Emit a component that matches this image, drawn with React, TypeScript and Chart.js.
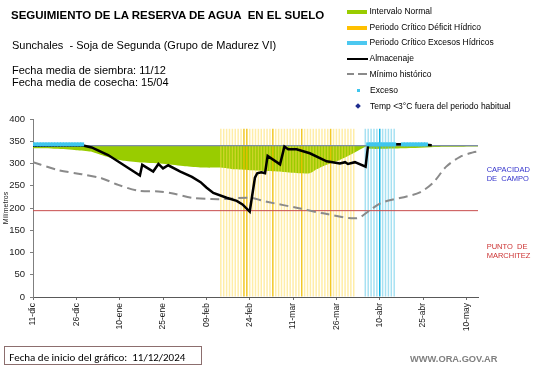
import React, { useEffect, useRef } from 'react';
import { Chart, registerables } from 'chart.js';

Chart.register(...registerables);

// ---------- data ----------
const X_MAX = 154; // days after 11-dic
const tickDays = [0, 15, 30, 45, 60, 75, 90, 105, 120, 135, 150];
const xTickLabels = ['11-dic', '26-dic', '10-ene', '25-ene', '09-feb', '24-feb', '11-mar', '26-mar', '10-abr', '25-abr', '10-may'];

const capacidadCampo = 340;
const puntoMarchitez = 194;

const almacenajeDays = [0, 17, 20.3, 26, 37, 37.8, 41.6, 43.4, 45, 46.8, 51, 55, 58, 60, 62.4, 67, 70.5, 72.5, 75, 76.8, 77.6, 79, 80.3, 81.2, 85.5, 87, 88.3, 91.2, 95.8, 101.6, 106.2, 108, 109, 111.4, 115.1, 116, 126, 128, 136, 138];
const almacenajeMm = [340, 341, 336, 319, 273, 297, 282, 299, 289, 296, 282, 270, 258, 246, 234, 223, 216, 208, 192, 268, 278, 280, 278, 317, 298, 338, 332, 332, 323, 305, 300, 303, 299, 303, 293, 343, 343, 343, 342, 341];

const minimoDays = [0, 8.8, 16.8, 23.7, 29.5, 36.4, 43.4, 48, 55, 61.8, 66.4, 75, 80.9, 92.4, 100.4, 112, 116.6, 120, 124.5, 129.3, 133.9, 138.5, 143, 147.8, 152.3, 154];
const minimoMm = [303, 285, 276, 267, 252, 239, 237, 233, 223, 220, 220, 223, 214, 199, 188, 177, 195, 210, 219, 226, 235, 257, 293, 315, 325, 327];

const normalLowDays = [0, 8, 15, 20, 23.7, 27.2, 31.8, 37.6, 45.7, 52.6, 58.4, 66.4, 69.3, 75, 80.9, 86.6, 92.4, 95.8, 97.6, 101.6, 106.2, 110.8, 115.5, 116.5, 128, 140, 154];
const normalLowMm = [334, 333, 330, 327, 319, 312, 306, 302, 299, 294, 291, 290, 287, 285, 283, 281, 278, 278, 285, 297, 308, 323, 339, 333, 334, 337, 338];

const deficitPeriod = [65, 111];
const deficitDarkDays = [73, 74, 83, 93, 103];
const excesoPeriod = [115, 125];
const excesoDarkDays = [120];
const periodBarMm = 378;

const excesoRanges = [[0, 17], [116, 125], [128, 136]];
const excesoMm = 343;

// ---------- helpers ----------
const range = (a: number, b: number) => Array.from({ length: b - a + 1 }, (_, i) => a + i);
const pts = (xs: number[], ys: number[]) => xs.map((x, i) => ({ x, y: ys[i] }));
const FONT = "'Liberation Sans', Arial, Helvetica, sans-serif";

function T(props: { x: number; b: number; size: number; bold?: boolean; color?: string; ls?: number; family?: string; children: React.ReactNode }) {
  const { x, b, size, bold, color, ls, family, children } = props;
  return (
    <div
      style={{
        position: 'absolute',
        left: x,
        top: b - 0.8465 * size,
        fontSize: size,
        lineHeight: size + 'px',
        fontWeight: bold ? 'bold' : 'normal',
        color: color || '#000',
        letterSpacing: ls ? ls + 'px' : undefined,
        whiteSpace: 'pre',
        fontFamily: family || FONT,
      }}
    >
      {children}
    </div>
  );
}

export default function App() {
  const ref = useRef<HTMLCanvasElement>(null);

  useEffect(() => {
    if (!ref.current) return;
    const defDays = range(deficitPeriod[0], deficitPeriod[1]);
    const excDays = range(excesoPeriod[0], excesoPeriod[1]);
    const excesoPts: { x: number; y: number }[] = [];
    excesoRanges.forEach(([a, b]) => range(a, b).forEach((d) => excesoPts.push({ x: d, y: excesoMm })));

    const chart = new Chart(ref.current, {
      type: 'line',
      data: {
        datasets: [
          {
            type: 'line',
            label: 'Exceso',
            data: excesoPts,
            showLine: false,
            pointStyle: 'rect',
            pointRadius: 2.8,
            pointBackgroundColor: '#3FC6EE',
            pointBorderWidth: 0,
            order: 0,
          },
          {
            type: 'line',
            label: 'Almacenaje',
            data: pts(almacenajeDays, almacenajeMm),
            borderColor: '#000',
            borderWidth: 2.5,
            pointRadius: 0,
            tension: 0,
            fill: false,
            order: 1,
          },
          {
            type: 'line',
            label: 'Mínimo histórico',
            data: pts(minimoDays, minimoMm),
            borderColor: '#8A8A8A',
            borderWidth: 2,
            borderDash: [9, 5],
            pointRadius: 0,
            tension: 0.3,
            fill: false,
            order: 2,
          },
          {
            type: 'line',
            label: 'Punto de marchitez',
            data: [{ x: 0, y: puntoMarchitez }, { x: X_MAX, y: puntoMarchitez }],
            borderColor: '#C84B4B',
            borderWidth: 1,
            pointRadius: 0,
            fill: false,
            order: 3,
          },
          {
            type: 'line',
            label: 'Capacidad de campo',
            data: [{ x: 0, y: capacidadCampo }, { x: X_MAX, y: capacidadCampo }],
            borderColor: '#7E8DA6',
            borderWidth: 1.3,
            pointRadius: 0,
            fill: false,
            order: 4,
          },
          {
            type: 'bar',
            label: 'Periodo Crítico Déficit Hídrico',
            data: defDays.map((d) => ({ x: d, y: periodBarMm })),
            backgroundColor: defDays.map((d) => (deficitDarkDays.includes(d) ? 'rgba(240,190,0,0.85)' : 'rgba(255,220,80,0.5)')),
            borderWidth: 0,
            grouped: false,
            barPercentage: 0.52,
            categoryPercentage: 1,
            order: 5,
          },
          {
            type: 'bar',
            label: 'Periodo Crítico Excesos Hídricos',
            data: excDays.map((d) => ({ x: d, y: periodBarMm })),
            backgroundColor: excDays.map((d) => (excesoDarkDays.includes(d) ? 'rgba(0,175,225,0.95)' : 'rgba(80,195,230,0.5)')),
            borderWidth: 0,
            grouped: false,
            barPercentage: 0.52,
            categoryPercentage: 1,
            order: 6,
          },
          {
            type: 'line',
            label: 'Intervalo Normal',
            data: normalLowDays.map((d) => ({ x: d, y: capacidadCampo })),
            borderColor: 'rgba(0,0,0,0)',
            borderWidth: 0,
            backgroundColor: '#99CC00',
            pointRadius: 0,
            tension: 0,
            fill: '+1',
            order: 7,
          },
          {
            type: 'line',
            label: 'Intervalo Normal (inf)',
            data: pts(normalLowDays, normalLowMm),
            borderColor: 'rgba(0,0,0,0)',
            borderWidth: 0,
            pointRadius: 0,
            tension: 0.2,
            fill: false,
            order: 8,
          },
        ] as any,
      },
      options: {
        animation: false,
        responsive: false,
        devicePixelRatio: 1,
        layout: { padding: { left: 0, right: 63, top: 119, bottom: 0 } },
        plugins: { legend: { display: false }, tooltip: { enabled: false } },
        scales: {
          x: {
            type: 'linear',
            min: 0,
            max: X_MAX,
            offset: false,
            grid: { drawOnChartArea: false, drawTicks: true, tickLength: 3, color: '#6f6f6f', offset: false },
            border: { color: '#595959', width: 1 },
            afterBuildTicks: (s: any) => {
              s.ticks = tickDays.map((v) => ({ value: v }));
            },
            afterFit: (s: any) => {
              s.height = 71;
            },
            ticks: {
              autoSkip: false,
              maxRotation: 90,
              minRotation: 90,
              padding: 3,
              color: '#1a1a1a',
              font: { family: FONT, size: 8.5 },
              callback: (_v: any, i: number) => xTickLabels[i],
            },
          },
          y: {
            type: 'linear',
            min: 0,
            max: 400,
            grid: { drawOnChartArea: false, drawTicks: true, tickLength: 3, color: '#7f7f7f' },
            border: { color: '#7f7f7f', width: 1 },
            afterFit: (s: any) => {
              s.width = 33;
            },
            title: { display: true, text: 'Milímetros', color: '#1a1a1a', font: { family: FONT, size: 7 }, padding: { top: 2, bottom: 0 } },
            ticks: { stepSize: 50, padding: 5, color: '#1a1a1a', font: { family: FONT, size: 9.5 } },
          },
        },
      } as any,
    });
    return () => chart.destroy();
  }, []);

  return (
    <div style={{ position: 'fixed', left: 0, top: 0, width: 541, height: 368, background: '#fff', overflow: 'hidden', fontFamily: FONT }}>
      <canvas ref={ref} width={541} height={368} style={{ position: 'absolute', left: 0, top: 0 }} />

      <T x={11} b={20} size={11.5} bold>SEGUIMIENTO DE LA RESERVA DE AGUA  EN EL SUELO</T>
      <T x={12} b={49.3} size={11}>Sunchales  - Soja de Segunda (Grupo de Madurez VI)</T>
      <T x={12} b={74} size={11}>Fecha media de siembra: 11/12</T>
      <T x={12} b={86} size={11}>Fecha media de cosecha: 15/04</T>

      {/* legend */}
      <div style={{ position: 'absolute', left: 347, top: 10, width: 20, height: 4, background: '#99CC00' }} />
      <T x={369.5} b={14} size={8.5}>Intervalo Normal</T>
      <div style={{ position: 'absolute', left: 347, top: 25.5, width: 20, height: 4, background: '#FFC000' }} />
      <T x={369.5} b={29.8} size={8.5}>Periodo Crítico Déficit Hídrico</T>
      <div style={{ position: 'absolute', left: 347, top: 41.3, width: 20, height: 4, background: '#4CC8F0' }} />
      <T x={369.5} b={45.6} size={8.5}>Periodo Crítico Excesos Hídricos</T>
      <div style={{ position: 'absolute', left: 347, top: 58.3, width: 21, height: 2.2, background: '#000' }} />
      <T x={369.5} b={61.4} size={8.5}>Almacenaje</T>
      <div style={{ position: 'absolute', left: 346.7, top: 73.2, width: 7, height: 2, background: '#8A8A8A' }} />
      <div style={{ position: 'absolute', left: 358.3, top: 73.2, width: 9, height: 2, background: '#8A8A8A' }} />
      <T x={369.5} b={77.2} size={8.5}>Mínimo histórico</T>
      <div style={{ position: 'absolute', left: 356.5, top: 88.5, width: 3, height: 3, background: '#3FC6EE' }} />
      <T x={370} b={93} size={8.5}>Exceso</T>
      <div style={{ position: 'absolute', left: 356.3, top: 104, width: 4, height: 4, background: '#1F2D8F', transform: 'rotate(45deg)' }} />
      <T x={370} b={108.8} size={8.5}>Temp &lt;3°C fuera del periodo habitual</T>

      {/* right labels */}
      <T x={486.7} b={172.7} size={7.5} color="#3333CC">CAPACIDAD</T>
      <T x={486.7} b={181.7} size={7.5} color="#3333CC">DE  CAMPO</T>
      <T x={486.7} b={249} size={7.5} color="#CC3333">PUNTO  DE</T>
      <T x={486.7} b={258.3} size={7.5} color="#CC3333">MARCHITEZ</T>

      {/* bottom */}
      <div style={{ position: 'absolute', left: 4, top: 346, width: 198, height: 19, border: '1px solid #8C6E6E', boxSizing: 'border-box' }} />
      <T x={9.3} b={361} size={11} family="Carlito, Lato, sans-serif">Fecha de inicio del gráfico:  11/12/2024</T>
      <T x={410} b={362.7} size={9.3} bold color="#808080">WWW.ORA.GOV.AR</T>
    </div>
  );
}
